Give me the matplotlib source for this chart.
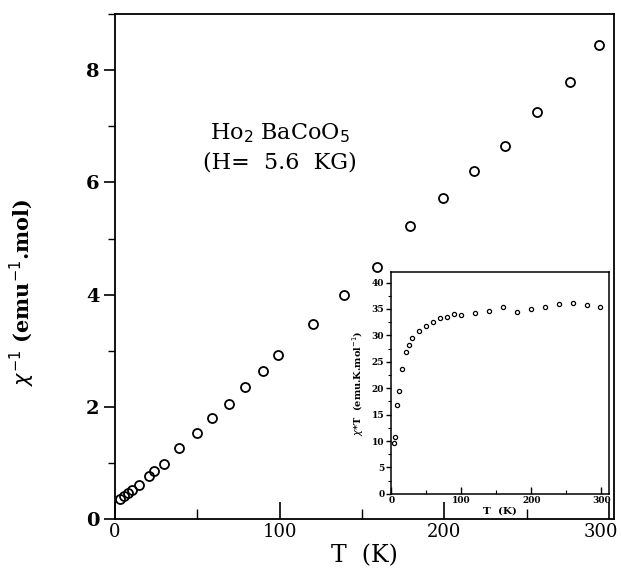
import matplotlib
matplotlib.use("Agg")
import matplotlib.pyplot as plt
from matplotlib.ticker import MultipleLocator
from matplotlib.transforms import ScaledTranslation

# Main panel: inverse susceptibility vs temperature
T_main = [3, 5.5, 8, 10.5, 14.5, 21, 24, 30, 39, 50, 59, 69, 79, 90, 99,
          120, 139, 159, 179, 199, 218, 237, 256, 276, 294]
chi_inv = [0.36, 0.41, 0.46, 0.52, 0.60, 0.77, 0.86, 0.98, 1.27, 1.53, 1.80,
           2.05, 2.35, 2.64, 2.92, 3.48, 3.99, 4.49, 5.22, 5.72, 6.20, 6.65,
           7.25, 7.80, 8.45]

# Inset: chi*T vs temperature
T_ins = [3.3, 4.8, 8, 11, 15, 21, 25, 30, 40, 50, 60, 69, 80, 90, 99,
         120, 140, 160, 180, 200, 220, 239, 260, 279, 298]
chiT = [9.6, 10.8, 16.9, 19.4, 23.7, 26.9, 28.2, 29.5, 30.9, 31.7, 32.5, 33.3,
        33.4, 34.0, 33.8, 34.2, 34.7, 35.4, 34.4, 34.9, 35.4, 35.9, 36.1, 35.8, 35.3]

main_xticks = [0, 100, 200, 300]
main_yticks = [0, 2, 4, 6, 8]
ins_xticks = [0, 100, 200, 300]
ins_yticks = [0, 5, 10, 15, 20, 25, 30, 35, 40]

fig = plt.figure(figsize=(6.21, 5.69), dpi=100)
ax = fig.add_axes([0.185, 0.088, 0.804, 0.887])
ax.plot(T_main, chi_inv, linestyle='none', marker='o', markersize=6.5,
        markerfacecolor='none', markeredgecolor='black', markeredgewidth=1.3)
ax.set_xlim(0, 303)
ax.set_ylim(0, 9.0)
ax.set_xticks(main_xticks)
ax.set_yticks(main_yticks)
ax.xaxis.set_minor_locator(MultipleLocator(50))
ax.yaxis.set_minor_locator(MultipleLocator(1))
ax.tick_params(axis='x', which='major', direction='in', length=12, width=1.2, pad=3)
ax.tick_params(axis='x', which='minor', direction='in', length=7, width=1.0)
ax.tick_params(axis='y', which='major', direction='out', length=8, width=1.2, pad=3)
ax.tick_params(axis='y', which='minor', direction='out', length=5, width=1.0)
for s in ax.spines.values():
    s.set_linewidth(1.3)
xlabs = ax.get_xticklabels()
for lab in xlabs:
    lab.set_fontfamily('DejaVu Serif')
    lab.set_fontsize(13)
xlabs[-1].set_transform(xlabs[-1].get_transform() +
                        ScaledTranslation(-6 / 72, 0, fig.dpi_scale_trans))
for lab in ax.get_yticklabels():
    lab.set_fontfamily('DejaVu Serif')
    lab.set_fontweight('bold')
    lab.set_fontsize(14)
ax.set_xlabel('T  (K)', fontfamily='DejaVu Serif', fontsize=17, labelpad=2)
ax.set_ylabel(r'$\chi^{-1}$ (emu$^{-1}$.mol)', fontfamily='DejaVu Serif',
              fontweight='bold', fontsize=15, labelpad=30)
ax.yaxis.set_label_coords(-0.155, 0.45)

ax.text(100, 6.88, r'Ho$_2$ BaCoO$_5$', ha='center', va='center',
        fontfamily='DejaVu Serif', fontsize=16)
ax.text(100, 6.36, '(H=  5.6  KG)', ha='center', va='center',
        fontfamily='DejaVu Serif', fontsize=16)

# Inset
ins = fig.add_axes([0.630, 0.132, 0.351, 0.390])
ins.plot(T_ins, chiT, linestyle='none', marker='o', markersize=3,
         markerfacecolor='none', markeredgecolor='black', markeredgewidth=0.9)
ins.set_xlim(0, 311)
ins.set_ylim(0, 42)
ins.set_xticks(ins_xticks)
ins.set_yticks(ins_yticks)
ins.xaxis.set_minor_locator(MultipleLocator(50))
ins.yaxis.set_minor_locator(MultipleLocator(2.5))
ins.tick_params(axis='x', which='major', direction='in', length=5, width=1.0, pad=1.5, labelsize=6.5)
ins.tick_params(axis='x', which='minor', direction='in', length=3, width=0.8)
ins.tick_params(axis='y', which='major', direction='out', length=3.5, width=1.0, pad=1.5, labelsize=6.5)
ins.tick_params(axis='y', which='minor', direction='out', length=2, width=0.8)
for lab in ins.get_xticklabels() + ins.get_yticklabels():
    lab.set_fontweight('bold')
    lab.set_fontfamily('DejaVu Serif')
for s in ins.spines.values():
    s.set_linewidth(1.1)
ins.set_xlabel('T  (K)', fontfamily='DejaVu Serif', fontweight='bold', fontsize=7.5, labelpad=1)
ins.set_ylabel(r'$\chi$*T  (emu.K.mol$^{-1}$)', fontfamily='DejaVu Serif',
               fontweight='bold', fontsize=7, labelpad=4)

fig.savefig('out.png', dpi=100)
